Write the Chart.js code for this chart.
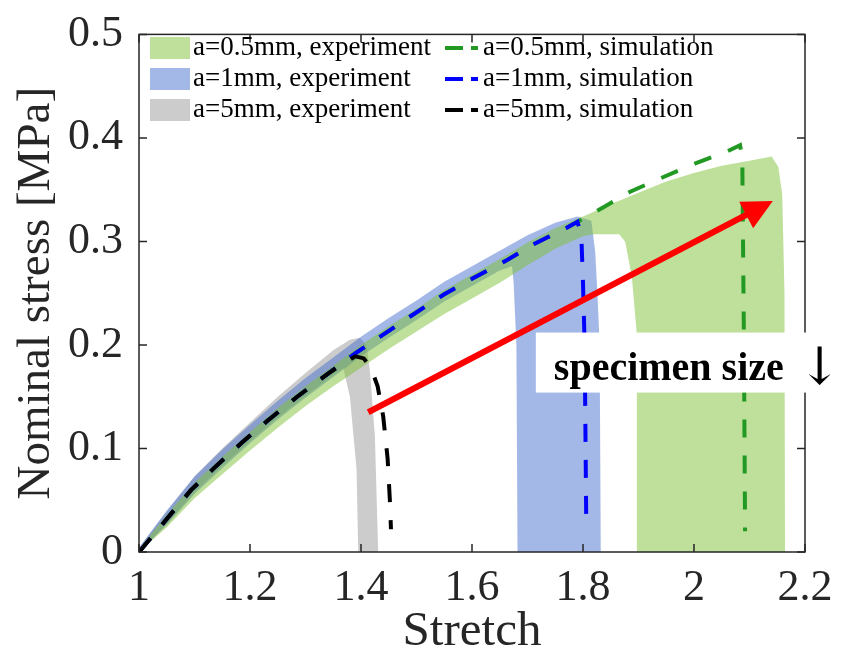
<!DOCTYPE html>
<html>
<head>
<meta charset="utf-8">
<script src="https://cdn.jsdelivr.net/npm/chart.js@4.4.0/dist/chart.umd.min.js"></script>
<style>
  html, body { margin: 0; padding: 0; background: #fff; }
  #wrap { width: 841px; height: 656px; }
</style>
</head>
<body>
<div id="wrap"><canvas id="stressChart" width="841" height="656"></canvas></div>
<script>
// Ejes
const xTicks = [1, 1.2, 1.4, 1.6, 1.8, 2, 2.2];
const xTickLabels = ['1', '1.2', '1.4', '1.6', '1.8', '2', '2.2'];
const yTicks = [0, 0.1, 0.2, 0.3, 0.4, 0.5];
const yTickLabels = ['0', '0.1', '0.2', '0.3', '0.4', '0.5'];

// Simulaciones (curvas discontinuas)
const sim05X = [1, 1.047, 1.094, 1.137, 1.186, 1.232, 1.285, 1.34, 1.39, 1.44, 1.49, 1.55, 1.6, 1.66, 1.71, 1.77, 1.8, 1.84, 1.885, 1.944, 2.005, 2.06, 2.083, 2.087, 2.09, 2.092];
const sim05Y = [0, 0.030, 0.060, 0.082, 0.106, 0.127, 0.150, 0.172, 0.192, 0.210, 0.228, 0.249, 0.264, 0.281, 0.297, 0.313, 0.322, 0.334, 0.348, 0.362, 0.376, 0.387, 0.393, 0.380, 0.2, 0.02];
const sim1X = [1, 1.047, 1.094, 1.137, 1.186, 1.232, 1.285, 1.34, 1.39, 1.44, 1.49, 1.55, 1.6, 1.66, 1.71, 1.77, 1.79, 1.797, 1.8, 1.803, 1.806];
const sim1Y = [0, 0.030, 0.060, 0.082, 0.106, 0.127, 0.150, 0.172, 0.192, 0.210, 0.228, 0.249, 0.264, 0.281, 0.297, 0.313, 0.319, 0.305, 0.26, 0.2, 0.02];
const sim5X = [1, 1.047, 1.094, 1.137, 1.186, 1.232, 1.285, 1.34, 1.37, 1.39, 1.405, 1.418, 1.43, 1.44, 1.448, 1.452, 1.454];
const sim5Y = [0, 0.030, 0.060, 0.082, 0.106, 0.127, 0.150, 0.172, 0.183, 0.189, 0.187, 0.178, 0.160, 0.131, 0.090, 0.05, 0.022];

// Experimentos (contorno de cada banda)
const exp05X = [1, 1.05, 1.1, 1.15, 1.2, 1.25, 1.3, 1.35, 1.4, 1.45, 1.5, 1.55, 1.6, 1.65, 1.7, 1.75, 1.8, 1.85, 1.9, 1.95, 2.0, 2.05, 2.1, 2.14, 2.152, 2.159, 2.163, 2.164,
                1.897, 1.897, 1.888, 1.876, 1.865, 1.82, 1.8, 1.75, 1.7, 1.65, 1.6, 1.55, 1.5, 1.45, 1.4, 1.35, 1.3, 1.25, 1.2, 1.15, 1.1, 1.05, 1];
const exp05Y = [0.003, 0.036, 0.067, 0.092, 0.116, 0.139, 0.160, 0.180, 0.200, 0.218, 0.235, 0.253, 0.268, 0.283, 0.299, 0.313, 0.324, 0.336, 0.347, 0.358, 0.366, 0.373, 0.378, 0.382, 0.372, 0.345, 0.25, 0,
                0, 0.21, 0.266, 0.300, 0.307, 0.307, 0.305, 0.293, 0.277, 0.260, 0.245, 0.230, 0.213, 0.196, 0.178, 0.160, 0.141, 0.120, 0.098, 0.075, 0.052, 0.024, 0];
const exp1X = [1, 1.05, 1.1, 1.15, 1.2, 1.25, 1.3, 1.35, 1.4, 1.45, 1.5, 1.55, 1.6, 1.65, 1.7, 1.75, 1.79, 1.815, 1.822, 1.826, 1.83, 1.832,
               1.682, 1.68, 1.675, 1.672, 1.65, 1.6, 1.55, 1.5, 1.45, 1.4, 1.35, 1.3, 1.25, 1.2, 1.15, 1.1, 1.05, 1];
const exp1Y = [0.004, 0.040, 0.073, 0.099, 0.123, 0.146, 0.168, 0.188, 0.208, 0.226, 0.243, 0.261, 0.276, 0.291, 0.306, 0.318, 0.324, 0.320, 0.29, 0.25, 0.2, 0,
               0, 0.2, 0.26, 0.276, 0.272, 0.257, 0.242, 0.224, 0.207, 0.189, 0.169, 0.149, 0.128, 0.105, 0.081, 0.056, 0.026, 0];
const exp5X = [1, 1.05, 1.1, 1.15, 1.2, 1.25, 1.3, 1.35, 1.38, 1.398, 1.41, 1.416, 1.425, 1.431,
               1.395, 1.392, 1.38, 1.368, 1.35, 1.3, 1.25, 1.2, 1.15, 1.1, 1.05, 1];
const exp5Y = [0.004, 0.039, 0.073, 0.100, 0.125, 0.150, 0.173, 0.195, 0.205, 0.207, 0.200, 0.175, 0.112, 0,
               0, 0.08, 0.15, 0.178, 0.171, 0.151, 0.130, 0.107, 0.083, 0.058, 0.027, 0];

// Flecha roja (inicio, punta)
const arrowX = [1.413, 2.142];
const arrowY = [0.135, 0.339];

const toPts = (xs, ys) => xs.map((v, i) => ({ x: v, y: ys[i] }));
const FONT = "'Liberation Serif', 'Times New Roman', serif";
const AXIS = '#262626';

const simLine = (label, xs, ys, color) => ({
    label, data: toPts(xs, ys), borderColor: color, borderWidth: 4,
    borderDash: [18, 18], pointRadius: 0, fill: false, tension: 0
});
const expShape = (label, xs, ys, color, swatch) => ({
    label, data: toPts(xs, ys), backgroundColor: color, swatch,
    borderColor: 'transparent', borderWidth: 0, pointRadius: 0, fill: 'shape', tension: 0
});

const sims = [
    simLine('a=0.5mm, simulation', sim05X, sim05Y, '#229922'),
    simLine('a=1mm, simulation', sim1X, sim1Y, '#0000ff'),
    simLine('a=5mm, simulation', sim5X, sim5Y, '#000000')
];
const exps = [
    expShape('a=0.5mm, experiment', exp05X, exp05Y, 'rgba(125,193,53,0.5)', 'rgb(190,224,154)'),
    expShape('a=1mm, experiment', exp1X, exp1Y, 'rgba(73,113,209,0.5)', 'rgb(164,184,232)'),
    expShape('a=5mm, experiment', exp5X, exp5Y, 'rgba(153,153,153,0.5)', 'rgb(204,204,204)')
];

// Caja, ticks interiores, flecha, texto y leyenda
const extras = {
    id: 'extras',
    afterDatasetsDraw(chart) {
        const { ctx, chartArea: a, scales: { x, y } } = chart;
        ctx.save();

        // flecha
        const x0 = x.getPixelForValue(arrowX[0]), y0 = y.getPixelForValue(arrowY[0]);
        const x1 = x.getPixelForValue(arrowX[1]), y1 = y.getPixelForValue(arrowY[1]);
        const ang = Math.atan2(y1 - y0, x1 - x0);
        const headL = 30, headW = 15;
        const bx = x1 - headL * Math.cos(ang), by = y1 - headL * Math.sin(ang);
        ctx.strokeStyle = '#ff0000'; ctx.fillStyle = '#ff0000'; ctx.lineWidth = 6;
        ctx.beginPath(); ctx.moveTo(x0, y0); ctx.lineTo(bx + 2 * Math.cos(ang), by + 2 * Math.sin(ang)); ctx.stroke();
        ctx.beginPath();
        ctx.moveTo(x1, y1);
        ctx.lineTo(bx + headW * Math.sin(ang), by - headW * Math.cos(ang));
        ctx.lineTo(bx - headW * Math.sin(ang), by + headW * Math.cos(ang));
        ctx.closePath(); ctx.fill();

        // caja de ejes
        ctx.strokeStyle = AXIS; ctx.lineWidth = 1.5;
        ctx.strokeRect(a.left, a.top, a.right - a.left, a.bottom - a.top);
        ctx.beginPath();
        xTicks.forEach(v => {
            const px = x.getPixelForValue(v);
            ctx.moveTo(px, a.bottom); ctx.lineTo(px, a.bottom - 8);
            ctx.moveTo(px, a.top); ctx.lineTo(px, a.top + 8);
        });
        yTicks.forEach(v => {
            const py = y.getPixelForValue(v);
            ctx.moveTo(a.left, py); ctx.lineTo(a.left + 8, py);
            ctx.moveTo(a.right, py); ctx.lineTo(a.right - 8, py);
        });
        ctx.stroke();

        // texto "specimen size"
        const tx = x.getPixelForValue(1.715);
        const ty0 = y.getPixelForValue(0.212), ty1 = y.getPixelForValue(0.154);
        ctx.fillStyle = '#ffffff';
        ctx.fillRect(tx, ty0, 838 - tx, ty1 - ty0);
        ctx.fillStyle = '#000';
        ctx.font = "bold 40px " + FONT;
        ctx.textBaseline = 'alphabetic';
        ctx.fillText('specimen size', tx + 18, ty0 + 47);
        ctx.font = "52px 'DejaVu Serif', serif";
        ctx.fillText('\u2193', tx + 262, ty0 + 51);

        // leyenda
        ctx.font = "27px " + FONT;
        ctx.textBaseline = 'middle';
        const rows = [48, 79, 110];
        exps.forEach((d, i) => {
            ctx.fillStyle = d.swatch;
            ctx.fillRect(150, rows[i] - 11, 40, 22);
            ctx.fillStyle = '#000';
            ctx.fillText(d.label, 193, rows[i]);
        });
        sims.forEach((d, i) => {
            ctx.strokeStyle = d.borderColor; ctx.lineWidth = 4;
            ctx.setLineDash([18, 8]);
            ctx.beginPath(); ctx.moveTo(445, rows[i]); ctx.lineTo(478, rows[i]); ctx.stroke();
            ctx.setLineDash([]);
            ctx.fillStyle = '#000';
            ctx.fillText(d.label, 483, rows[i]);
        });
        ctx.restore();
    }
};

new Chart(document.getElementById('stressChart').getContext('2d'), {
    type: 'line',
    // el primer conjunto se dibuja encima
    data: { datasets: [sims[2], sims[1], sims[0], ...exps] },
    options: {
        responsive: false,
        animation: false,
        devicePixelRatio: 1,
        layout: { padding: { left: 0, right: 36, top: 22, bottom: 0 } },
        plugins: { legend: { display: false }, tooltip: { enabled: false } },
        scales: {
            x: {
                type: 'linear', min: 1, max: 2.2,
                afterBuildTicks: s => { s.ticks = xTicks.map(v => ({ value: v })); },
                afterFit: s => { s.height = 104; },
                grid: { display: false }, border: { display: false },
                ticks: {
                    font: { family: FONT, size: 44 }, color: AXIS, padding: 2, maxRotation: 0,
                    callback: (v) => xTickLabels[xTicks.indexOf(v)]
                },
                title: { display: true, text: 'Stretch', font: { family: FONT, size: 49 }, color: AXIS, padding: { top: 0, bottom: -6 } }
            },
            y: {
                type: 'linear', min: 0, max: 0.5,
                afterBuildTicks: s => { s.ticks = yTicks.map(v => ({ value: v })); },
                afterFit: s => { s.width = 139; },
                grid: { display: false }, border: { display: false },
                ticks: {
                    font: { family: FONT, size: 44 }, color: AXIS, padding: 8,
                    callback: (v) => yTickLabels[yTicks.indexOf(v)]
                },
                title: { display: true, text: 'Nominal stress [MPa]', font: { family: FONT, size: 47 }, color: AXIS, padding: { top: 8, bottom: 0 } }
            }
        }
    },
    plugins: [extras]
});
</script>
</body>
</html>
